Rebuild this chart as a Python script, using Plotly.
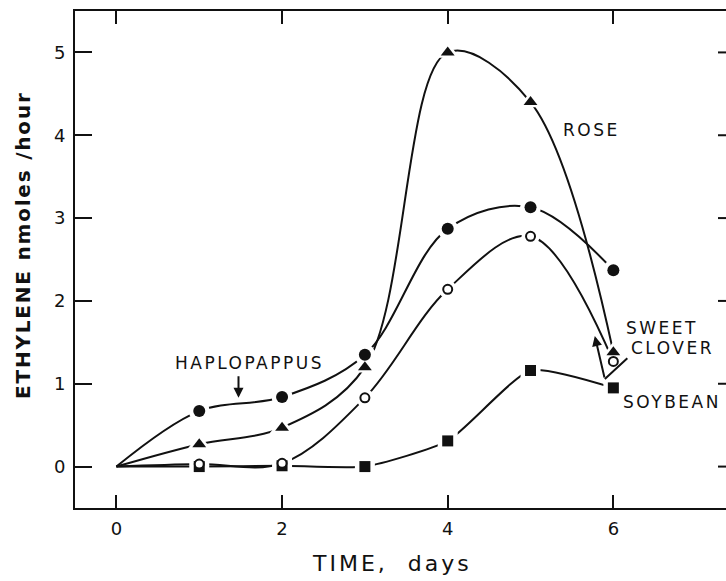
import plotly.graph_objects as go

# ---- data ----
days = [0, 1, 2, 3, 4, 5, 6]
haplopappus = [0, 0.67, 0.84, 1.35, 2.87, 3.13, 2.37]
rose = [0, 0.27, 0.47, 1.20, 5.00, 4.40, 1.38]
sweet_clover = [0, 0.03, 0.04, 0.83, 2.14, 2.78, 1.27]
soybean = [0, 0.00, 0.01, 0.00, 0.31, 1.16, 0.95]

x_ticks = [0, 2, 4, 6]
y_ticks = [0, 1, 2, 3, 4, 5]

INK = "#111111"
FONT = "DejaVu Sans"

series = [
    ("Haplopappus", haplopappus, "circle", INK, 12, 0, 1.0),
    ("Rose", rose, "triangle-up", INK, 12, 0, 1.0),
    ("Soybean", soybean, "square", INK, 11, 0, 0.55),
    ("Sweet clover", sweet_clover, "circle", "white", 9, 2, 1.0),
]

fig = go.Figure()

# curves
for name, vals, sym, fill, size, lw, sm in series:
    fig.add_trace(go.Scatter(
        x=days, y=vals, mode="lines", name=name,
        line=dict(color=INK, width=2, shape="spline", smoothing=sm),
        hoverinfo="skip", showlegend=False))

# white halos round the markers (gaps in the curves)
for name, vals, sym, fill, size, lw, sm in series:
    fig.add_trace(go.Scatter(
        x=days[1:], y=vals[1:], mode="markers",
        marker=dict(symbol=sym, size=size + 9, color="white",
                    line=dict(width=0)),
        hoverinfo="skip", showlegend=False))

# markers
for name, vals, sym, fill, size, lw, sm in series:
    fig.add_trace(go.Scatter(
        x=days[1:], y=vals[1:], mode="markers", name=name,
        marker=dict(symbol=sym, size=size, color=fill,
                    line=dict(width=lw, color=INK)),
        showlegend=False))

def lbl(t, sp=2.5):
    return f'<span style="letter-spacing:{sp}px">{t}</span>'

ann_font = dict(family=FONT, size=17, color=INK)
annotations = [
    dict(x=1.61, y=1.25, text=lbl("HAPLOPAPPUS"), showarrow=False, font=ann_font),
    dict(x=1.474, y=0.83, text="", showarrow=True, ax=0, ay=-23,
         arrowhead=2, arrowsize=1, arrowwidth=2, arrowcolor=INK),
    dict(x=5.73, y=4.06, text=lbl("ROSE"), showarrow=False, font=ann_font),
    dict(x=6.59, y=1.67, text=lbl("SWEET"), showarrow=False, font=ann_font),
    dict(x=6.71, y=1.43, text=lbl("CLOVER"), showarrow=False, font=ann_font),
    dict(x=6.71, y=0.78, text=lbl("SOYBEAN"), showarrow=False, font=ann_font),
    dict(x=5.897, y=1.058, text="", showarrow=True, ax=24, ay=-22,
         arrowhead=0, arrowwidth=2, arrowcolor=INK),
    dict(x=5.776, y=1.576, text="", showarrow=True, ax=10, ay=43,
         arrowhead=2, arrowsize=1, arrowwidth=2, arrowcolor=INK),
]
for a in annotations:
    a.update(xref="x", yref="y")

# axis titles placed as annotations (paper coords)
annotations.append(dict(
    xref="paper", yref="paper", x=(391.5 - 75) / 651, y=(508 - 563) / 497,
    xanchor="center", yanchor="middle",
    text=lbl("TIME,\u00a0\u00a0days", 3), showarrow=False,
    font=dict(family=FONT, size=22, color=INK)))
annotations.append(dict(
    xref="paper", yref="paper", x=(23 - 75) / 651, y=(508 - 245) / 497,
    xanchor="center", yanchor="middle",
    text=lbl("<b>ETHYLENE\u00a0nmoles\u00a0/hour</b>", 1.8), textangle=-90,
    showarrow=False, font=dict(family=FONT, size=20, color=INK)))

# inward ticks on the (cropped) right-hand axis
shapes = [dict(type="line", xref="paper", yref="y", x0=(718 - 75) / 651, x1=1.0,
               y0=v, y1=v, line=dict(color=INK, width=2)) for v in y_ticks]

fig.update_layout(
    width=726, height=581,
    margin=dict(l=75, r=0, t=11, b=73),
    paper_bgcolor="white", plot_bgcolor="white",
    showlegend=False,
    annotations=annotations,
    shapes=shapes,
    xaxis=dict(
        range=[-0.5, 7.36], tickvals=x_ticks, ticktext=[str(v) for v in x_ticks],
        showgrid=False, zeroline=False,
        showline=True, linecolor=INK, linewidth=2, mirror="ticks",
        ticks="inside", ticklen=13, tickwidth=2, tickcolor=INK,
        ticklabelstandoff=3,
        tickfont=dict(family=FONT, size=18, color=INK),
    ),
    yaxis=dict(
        range=[-0.5, 5.5], tickvals=y_ticks, ticktext=[str(v) for v in y_ticks],
        showgrid=False, zeroline=False,
        showline=True, linecolor=INK, linewidth=2, mirror=False,
        ticks="inside", ticklen=17, tickwidth=2, tickcolor=INK,
        ticklabelstandoff=4,
        tickfont=dict(family=FONT, size=18, color=INK),
    ),
)

fig.write_html("out.html")
